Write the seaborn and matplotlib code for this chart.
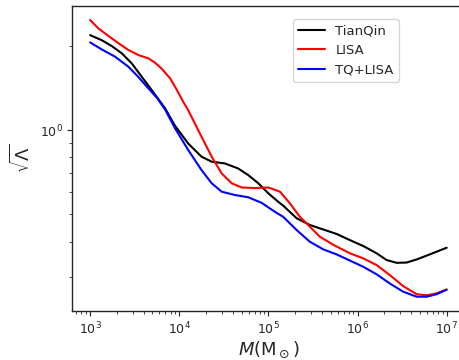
import numpy as np
import pandas as pd
import matplotlib
matplotlib.use("Agg")
import matplotlib.pyplot as plt
import matplotlib.ticker as mticker
import seaborn as sns

# log10(M) and log10(sqrt(Lambda))
tq_logm = [3.0, 3.13, 3.243, 3.355, 3.467, 3.58, 3.69, 3.84, 3.953, 4.10, 4.25, 4.364, 4.51,
           4.66, 4.775, 4.887, 5.0, 5.11, 5.167, 5.317, 5.466, 5.616, 5.766, 5.915, 6.064,
           6.214, 6.326, 6.438, 6.55, 6.663, 6.81, 7.0]
tq_logy = [0.339, 0.321, 0.300, 0.274, 0.238, 0.19, 0.143, 0.078, 0.015, -0.048, -0.095, -0.113, -0.119,
           -0.137, -0.161, -0.19, -0.226, -0.256, -0.27, -0.315, -0.339, -0.355, -0.371, -0.393, -0.414,
           -0.44, -0.464, -0.474, -0.473, -0.462, -0.444, -0.42]

lisa_logm = [3.0, 3.093, 3.205, 3.318, 3.43, 3.54, 3.654, 3.73, 3.80, 3.897, 3.97, 4.046, 4.10,
             4.25, 4.364, 4.476, 4.589, 4.70, 4.85, 5.0, 5.13, 5.242, 5.354, 5.466, 5.578,
             5.73, 5.915, 6.064, 6.214, 6.363, 6.512, 6.663, 6.775, 6.887, 7.0]
lisa_logy = [0.393, 0.363, 0.336, 0.31, 0.286, 0.268, 0.256, 0.24, 0.22, 0.185, 0.145, 0.10, 0.071,
             -0.024, -0.095, -0.155, -0.19, -0.205, -0.207, -0.205, -0.22, -0.262, -0.31, -0.345, -0.381,
             -0.41, -0.44, -0.458, -0.482, -0.518, -0.557, -0.586, -0.59, -0.583, -0.569]

both_logm = [3.0, 3.13, 3.28, 3.43, 3.54, 3.636, 3.75, 3.84, 3.953, 4.10, 4.25, 4.364, 4.476,
             4.626, 4.775, 4.925, 5.074, 5.167, 5.317, 5.466, 5.616, 5.766, 5.915, 6.064,
             6.214, 6.363, 6.512, 6.663, 6.775, 6.887, 7.0]
both_logy = [0.313, 0.288, 0.262, 0.226, 0.19, 0.155, 0.115, 0.074, 0.006, -0.071, -0.143, -0.19, -0.22,
             -0.232, -0.24, -0.26, -0.292, -0.31, -0.357, -0.399, -0.426, -0.444, -0.466, -0.488,
             -0.515, -0.548, -0.577, -0.595, -0.595, -0.586, -0.57]

labels = ["TianQin", "LISA", "TQ+LISA"]
colors = ["black", "red", "blue"]

frames = []
for lab, lm, ly in zip(labels, [tq_logm, lisa_logm, both_logm], [tq_logy, lisa_logy, both_logy]):
    frames.append(pd.DataFrame({"M": 10 ** np.array(lm), "L": 10 ** np.array(ly), "det": lab}))
df = pd.concat(frames, ignore_index=True)

sns.set_style("ticks")
plt.rcParams["font.family"] = ["DejaVu Sans"]
plt.rcParams["mathtext.fontset"] = "dejavusans"

fig = plt.figure(figsize=(4.6, 3.6), dpi=100)
ax = fig.add_axes([72.3 / 460, 49 / 360, 392.2 / 460, 305 / 360])
sns.lineplot(data=df, x="M", y="L", hue="det", palette=dict(zip(labels, colors)),
             hue_order=labels, linewidth=1.5, ax=ax, sort=False, estimator=None)
for ln in ax.get_lines():
    ln.set_solid_joinstyle("round")
ax.set_xscale("log")
ax.set_yscale("log")
ax.set_xlim(10 ** 2.8, 10 ** 7.2)
ax.set_ylim(10 ** -0.646, 10 ** 0.443)
ax.yaxis.set_minor_formatter(mticker.NullFormatter())
ax.tick_params(axis="both", which="major", labelsize=9, direction="out", length=3.5, width=0.8)
ax.tick_params(axis="both", which="minor", direction="out", length=2, width=0.6)
for s in ax.spines.values():
    s.set_linewidth(1.0)
ax.set_xlabel(r"$M(\mathrm{M}_\odot)$", fontsize=13, labelpad=2)
ax.set_ylabel(r"$\sqrt{\Lambda}$", fontsize=13, labelpad=4)
h, l = ax.get_legend_handles_labels()
ax.legend(h, l, loc="upper right", bbox_to_anchor=(0.833, 0.957), borderaxespad=0,
          fontsize=9.5, frameon=True)
fig.savefig("out.png", dpi=100)
